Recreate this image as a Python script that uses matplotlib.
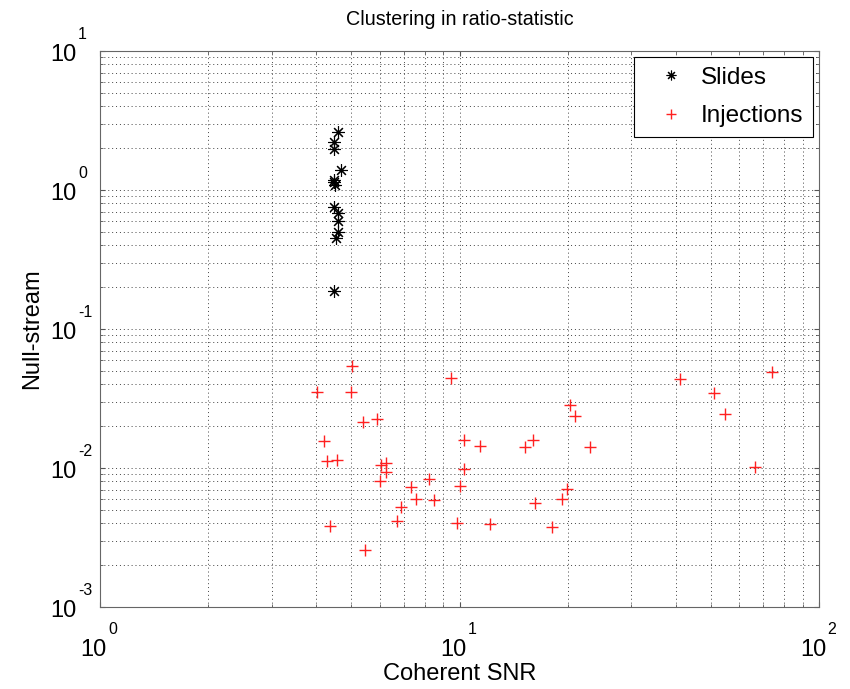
import numpy as np
import matplotlib
matplotlib.use('Agg')
import matplotlib.pyplot as plt

plt.rcParams['font.family'] = ['Liberation Sans', 'DejaVu Sans']

# slides (black stars)
slide_snr = [4.58, 4.47, 4.47, 4.67, 4.47, 4.48, 4.50, 4.47, 4.59, 4.60, 4.58, 4.54, 4.47]
slide_null = [2.62, 2.20, 1.96, 1.40, 1.18, 1.14, 1.095, 0.751, 0.680, 0.595, 0.496, 0.451, 0.1885]

# injections (red plus)
inj_snr = [5.01, 9.48, 4.015, 4.98, 5.40, 5.88, 4.20, 10.28, 11.39, 4.28,
           4.57, 6.03, 6.26, 6.23, 6.02, 10.28, 8.22, 10.04, 7.34, 7.55,
           8.47, 6.87, 6.71, 4.36, 9.83, 12.12, 5.46, 41.1, 51.0, 73.9,
           54.7, 20.25, 20.96, 16.02, 15.26, 23.07, 66.4, 19.92, 19.24, 16.19,
           18.09]
inj_null = [0.0546, 0.0447, 0.0354, 0.0354, 0.02144, 0.0224, 0.01572, 0.01598, 0.0143, 0.01115,
            0.01133, 0.0105, 0.01078, 0.00929, 0.0080, 0.00976, 0.00837, 0.00745, 0.00733, 0.00603,
            0.00584, 0.00526, 0.00419, 0.00385, 0.00403, 0.00396, 0.00255, 0.0435, 0.0347, 0.0494,
            0.0245, 0.0282, 0.02368, 0.0158, 0.01423, 0.0141, 0.0102, 0.00712, 0.00597, 0.00559,
            0.00377]

x_exps = [0, 1, 2]
y_exps = [-3, -2, -1, 0, 1]

fig = plt.figure(figsize=(8.5, 6.89), dpi=100)
ax = fig.add_axes([100/850, 82/689, 719/850, 556/689])

ax.loglog(slide_snr, slide_null, linestyle='none', marker=(8, 2, 0), color='k',
          markersize=9, markeredgewidth=0.8, label='Slides')
ax.loglog(inj_snr, inj_null, linestyle='none', marker='+', color='#ff2020',
          markersize=9, markeredgewidth=1.0, label='Injections')

ax.set_xlim(1, 100)
ax.set_ylim(1e-3, 10)
ax.grid(True, which='both', linestyle=(0, (1, 3)), color='#444444', linewidth=0.7)
ax.tick_params(which='both', direction='in', top=True, right=True,
               labelbottom=False, labelleft=False, color='#555555')
for s in ax.spines.values():
    s.set_color('#666666')

# matlab style tick labels: "10" with a raised exponent
for e in x_exps:
    ax.annotate('10', xy=(10.0**e, 0), xycoords=('data', 'axes fraction'),
                xytext=(7, -49), textcoords='offset pixels', ha='right', va='baseline',
                fontsize=17, annotation_clip=False)
    ax.annotate(str(e), xy=(10.0**e, 0), xycoords=('data', 'axes fraction'),
                xytext=(8, -27), textcoords='offset pixels', ha='left', va='baseline',
                fontsize=11.5, annotation_clip=False)
for e in y_exps:
    ax.annotate('10', xy=(0, 10.0**e), xycoords=('axes fraction', 'data'),
                xytext=(-23, -10), textcoords='offset pixels', ha='right', va='baseline',
                fontsize=17, annotation_clip=False)
    ax.annotate(str(e), xy=(0, 10.0**e), xycoords=('axes fraction', 'data'),
                xytext=(-22, 12), textcoords='offset pixels', ha='left', va='baseline',
                fontsize=11.5, annotation_clip=False)

ax.set_xlabel('Coherent SNR', fontsize=17)
ax.xaxis.set_label_coords(0.5, -0.1)
ax.set_ylabel('Null-stream', fontsize=17)
ax.yaxis.set_label_coords(-0.079, 0.5)
ax.set_title('Clustering in ratio-statistic', fontsize=14.2, pad=18.5)

leg = ax.legend(loc='upper right', fontsize=17.5, numpoints=1, fancybox=False,
                framealpha=1, edgecolor='k', borderpad=0.4, handletextpad=0.14,
                handlelength=2.2, borderaxespad=0.25, labelspacing=0.68)
leg.get_frame().set_linewidth(0.8)
for h in leg.legend_handles:
    h.set_markersize(7)

fig.savefig('out.png', dpi=100)
